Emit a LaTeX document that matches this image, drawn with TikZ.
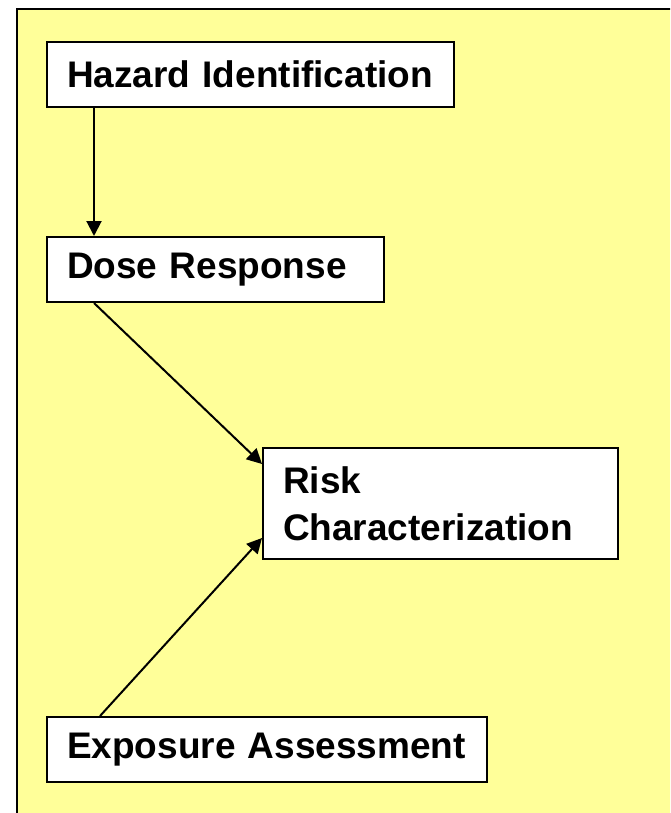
\documentclass[tikz,border=0pt]{standalone}
\usepackage{fontspec}
\setmainfont{Liberation Sans}
\usepackage{tikz}
\usetikzlibrary{arrows.meta}
\usetikzlibrary{positioning}
\definecolor{paleyellow}{HTML}{FFFF99}
\pgfkeys{tikz/mybox/.style={draw,fill=white,line width=1pt,anchor=north west,align=left,inner xsep=10pt,inner ysep=0pt,font=\fontsize{18.5}{23.5}\selectfont\bfseries}}
\pgfkeys{tikz/myarrow/.style={line width=1pt,-{Triangle[length=7.5pt,width=7.5pt]}}}

\begin{document}
\begin{tikzpicture}[x=0.5pt,y=-0.5pt]
    \clip (0,0) rectangle (670,813);
    \useasboundingbox (0,0) rectangle (670,813);
    \draw[fill=paleyellow,line width=1pt] (17,9) rectangle (720,860);
    \node[mybox,text width=183.5pt,minimum height=32.5pt] (hazard) at (46,41) {Hazard Identification};
    \node[mybox,text width=148.5pt,minimum height=32.5pt] (dose) at (46,236) {Dose Response};
    \node[mybox,text width=157.5pt,minimum height=55.5pt] (risk) at (262,447) {Risk\\Characterization};
    \node[mybox,text width=200pt,minimum height=32.5pt] (exposure) at (46,716) {Exposure Assessment};
    \draw[myarrow] ([xshift=24pt]hazard.south west) -- ([xshift=24pt]dose.north west);
    \draw[myarrow] ([xshift=24pt]dose.south west) -- ([yshift=19.75pt]risk.west);
    \draw[myarrow] ([xshift=27pt]exposure.north west) -- ([yshift=-17.25pt]risk.west);
\end{tikzpicture}
\end{document}
